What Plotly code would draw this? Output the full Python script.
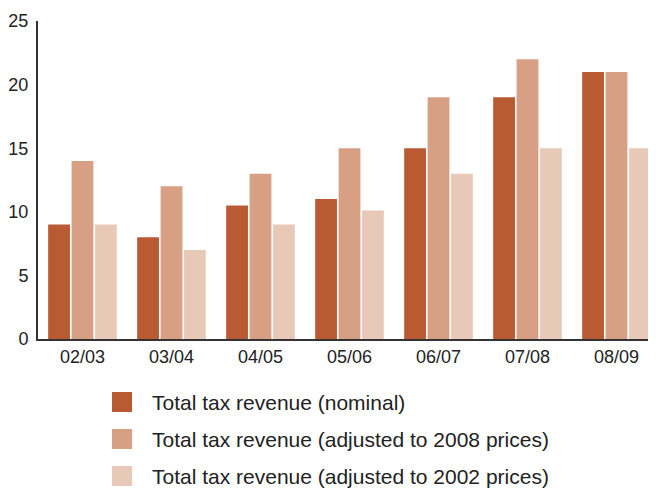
import plotly.graph_objects as go

categories = ["02/03", "03/04", "04/05", "05/06", "06/07", "07/08", "08/09"]
nominal = [9, 8, 10.5, 11, 15, 19, 21]
adj_2008 = [14, 12, 13, 15, 19, 22, 21]
adj_2002 = [9, 7, 9, 10.1, 13, 15, 15]
series_names = [
    "Total tax revenue (nominal)",
    "Total tax revenue (adjusted to 2008 prices)",
    "Total tax revenue (adjusted to 2002 prices)",
]
colors = ["#BA5A33", "#D7A085", "#E8C9B8"]
y_ticks = [0, 5, 10, 15, 20, 25]

FONT = "Liberation Sans, Arial, sans-serif"
TXT = "#222222"

# page offset from the default body margin
OFF = 8
FIG_W, FIG_H = 656, 492
# plot area in page pixels
P_L, P_R, P_T, P_B = 38, 661, 21, 339

L = P_L - OFF
T = P_T - OFF
R = FIG_W - (P_R - OFF)
B = FIG_H - (P_B - OFF)

def px_x(p):
    return (p - P_L) / (P_R - P_L)
def px_y(p):
    return (P_B - p) / (P_B - P_T)

fig = go.Figure()
for name, vals, col in zip(series_names, [nominal, adj_2008, adj_2002], colors):
    fig.add_trace(go.Bar(x=categories, y=vals, name=name, marker_color=col,
                         marker_line_width=0, showlegend=False))

# manual legend (square + text)
for i, (name, col) in enumerate(zip(series_names, colors)):
    top = 392 + 37 * i
    fig.add_shape(type="rect", xref="paper", yref="paper",
                  x0=px_x(112), x1=px_x(132), y0=px_y(top + 20), y1=px_y(top),
                  fillcolor=col, line_width=0)
    fig.add_annotation(xref="paper", yref="paper", x=px_x(151), y=px_y(top + 10),
                       text=name, showarrow=False, xanchor="left", yanchor="middle",
                       borderpad=0,
                       font=dict(family=FONT, size=21, color=TXT))

fig.update_layout(
    width=FIG_W, height=FIG_H,
    margin=dict(l=L, r=R, t=T, b=B),
    paper_bgcolor="white", plot_bgcolor="white",
    barmode="group", bargap=0.21, bargroupgap=0.07,
    font=dict(family=FONT, size=17, color=TXT),
)
fig.update_xaxes(showline=True, linecolor="#333333", linewidth=2, ticks="",
                 showgrid=False, automargin=False, tickfont=dict(size=18, color=TXT))
fig.update_yaxes(range=[0, 25], tickvals=y_ticks, showline=True, linecolor="#333333",
                 linewidth=2, ticks="", showgrid=False, zeroline=False, automargin=False,
                 ticklabelstandoff=4, tickfont=dict(size=18, color=TXT))

fig.write_html("out.html")
